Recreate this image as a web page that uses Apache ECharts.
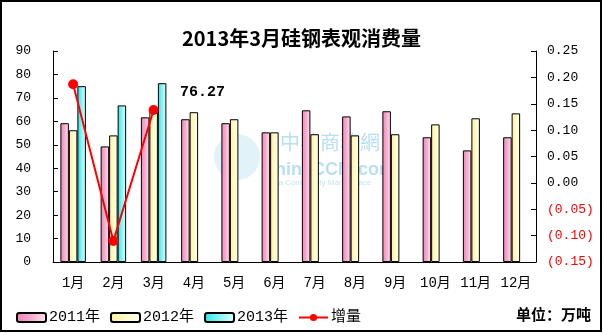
<!DOCTYPE html>
<html>
<head>
<meta charset="utf-8">
<script src="https://cdn.jsdelivr.net/npm/echarts@6/dist/echarts.min.js"></script>
<style>
  html, body { margin: 0; padding: 0; background: #fff; }
  #chart { width: 603px; height: 333px; }
</style>
</head>
<body>
<div id="chart"></div>
<script>
// 月份与各年表观消费量（万吨）
const months = ['1月', '2月', '3月', '4月', '5月', '6月', '7月', '8月', '9月', '10月', '11月', '12月'];
const y2011 = [59.2, 49.3, 61.7, 60.9, 59.2, 55.3, 64.7, 62.1, 64.3, 53.2, 47.6, 53.2];
const y2012 = [56.2, 54.0, 64.1, 63.9, 60.9, 55.3, 54.5, 54.0, 54.5, 58.7, 61.3, 63.4];
const y2013 = [75.0, 66.8, 76.27, null, null, null, null, null, null, null, null, null];
// 同比增量（右轴）
const growth = [0.187, -0.110, 0.138, null, null, null, null, null, null, null, null, null];
const seriesNames = ['2011年', '2012年', '2013年', '增量'];

const numFont = '"Liberation Mono", "Noto Sans CJK SC", monospace';
const cjkFont = '"Noto Sans CJK SC", sans-serif';

function hGrad(stops) {
  return new echarts.graphic.LinearGradient(0, 0, 1, 0,
    stops.map((c, i) => ({ offset: i / (stops.length - 1), color: c })));
}
const pink = hGrad(['#f282b6', '#f6acd0', '#fde4f0']);
const yellow = hGrad(['#ffee98', '#fffac8', '#ffffee']);
const cyan = hGrad(['#28e4e4', '#8cf4f4', '#e0ffff']);

function barSeries(name, data, color, extra) {
  return Object.assign({
    name: name,
    type: 'bar',
    data: data,
    barWidth: 8.5,
    barGap: '0%',
    itemStyle: { color: color, borderColor: '#000', borderWidth: 1 }
  }, extra || {});
}

const chart = echarts.init(document.getElementById('chart'), null, { renderer: 'canvas' });
chart.setOption({
  animation: false,
  backgroundColor: '#fff',
  title: {
    text: '2013年3月硅钢表观消费量',
    left: 'center',
    top: 23,
    textStyle: { fontFamily: cjkFont, fontSize: 20, fontWeight: 'bold', color: '#000' }
  },
  graphic: [
    // 外框
    { type: 'rect', shape: { x: 1, y: 1, width: 600, height: 330 },
      style: { fill: 'none', stroke: '#000', lineWidth: 2 }, z: 100 },
    // 水印
    { type: 'circle', shape: { cx: 237, cy: 157, r: 23 },
      style: { fill: '#d4ecf6', opacity: 0.7 }, z: -1 },
    { type: 'text', x: 280, y: 132, z: -1,
      style: { text: '中華商務網', fill: '#b9e0f1', font: '20px "Noto Sans CJK TC", sans-serif' } },
    { type: 'text', x: 262, y: 161, z: -1,
      style: { text: 'ChinaCCM.com', fill: '#b9e0f1', font: 'bold 18px Arial, sans-serif' } },
    { type: 'text', x: 262, y: 179, z: -1,
      style: { text: 'China Commodity Marketplace', fill: '#c4e4f3', font: '8px Arial, sans-serif' } },
    // 单位
    { type: 'text', right: 12, top: 307, z: 10,
      style: { text: '单位：万吨', fill: '#000', font: 'bold 15px "Noto Sans CJK SC", sans-serif' } }
  ],
  grid: { left: 53, right: 67, top: 51, bottom: 71 },
  legend: {
    data: seriesNames,
    left: 11,
    top: 305,
    itemWidth: 29,
    itemHeight: 9,
    itemGap: 10,
    textStyle: { fontFamily: numFont, fontSize: 15, color: '#000', padding: [0, 0, 0, -2] }
  },
  xAxis: {
    type: 'category',
    data: months,
    boundaryGap: true,
    axisLine: { lineStyle: { color: '#000', width: 1 } },
    axisTick: { inside: true, length: 4, lineStyle: { color: '#000' } },
    axisLabel: { color: '#000', fontFamily: numFont, fontSize: 14, margin: 14 },
    splitLine: { show: false }
  },
  yAxis: [
    {
      type: 'value',
      min: 0, max: 90, interval: 10,
      axisLine: { show: true, lineStyle: { color: '#000' } },
      axisTick: { show: true, inside: true, length: 5, lineStyle: { color: '#000' } },
      axisLabel: { color: '#000', fontFamily: numFont, fontSize: 13, margin: 22 },
      splitLine: { show: false }
    },
    {
      type: 'value',
      min: -0.15, max: 0.25, interval: 0.05,
      position: 'right',
      axisLine: { show: true, lineStyle: { color: '#000' } },
      axisTick: { show: true, inside: true, length: 5, lineStyle: { color: '#000' } },
      axisLabel: {
        fontFamily: numFont, fontSize: 13, margin: 11,
        formatter: v => {
          const r = Math.round(v * 100) / 100;
          return r < 0 ? '(' + Math.abs(r).toFixed(2) + ')' : r.toFixed(2);
        },
        color: v => (Math.round(v * 100) < 0 ? '#ff0000' : '#000')
      },
      splitLine: { show: false }
    }
  ],
  series: [
    barSeries(seriesNames[0], y2011, pink),
    barSeries(seriesNames[1], y2012, yellow),
    barSeries(seriesNames[2], y2013, cyan, {
      label: {
        show: true,
        position: [22, 2],
        align: 'left',
        verticalAlign: 'top',
        fontFamily: numFont,
        fontSize: 15,
        fontWeight: 'bold',
        color: '#000',
        formatter: p => (p.dataIndex === 2 ? p.value.toFixed(2) : '')
      }
    }),
    {
      name: seriesNames[3],
      type: 'line',
      yAxisIndex: 1,
      data: growth,
      symbol: 'circle',
      symbolSize: 10,
      z: 5,
      lineStyle: { color: '#ff0000', width: 2 },
      itemStyle: { color: '#ff0000' }
    }
  ]
});
</script>
</body>
</html>
